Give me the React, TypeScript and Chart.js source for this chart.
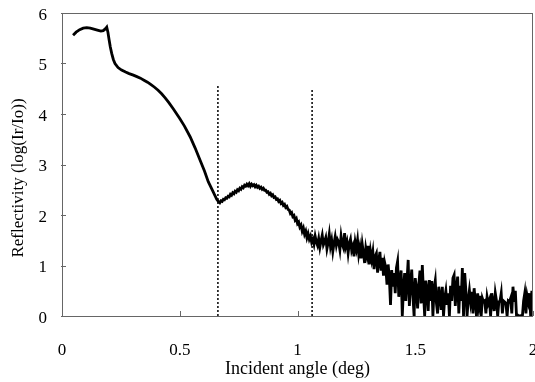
import React, { useEffect, useRef } from "react";
import { Chart, registerables } from "chart.js";

Chart.register(...registerables);

// Smooth low-angle part of the reflectivity curve (angle in deg, log(Ir/Io))
const smoothAngles = [
  0.047, 0.06, 0.075, 0.09, 0.105, 0.12, 0.135, 0.15, 0.165, 0.175, 0.185, 0.19,
  0.195, 0.2, 0.205, 0.211, 0.218, 0.225, 0.238, 0.253, 0.27, 0.285, 0.303, 0.318,
  0.333, 0.348, 0.363, 0.378, 0.393, 0.408, 0.423, 0.438, 0.453, 0.473, 0.5, 0.52,
  0.544, 0.565, 0.586, 0.605, 0.621, 0.64, 0.657,
];
const smoothRefl = [
  5.56, 5.62, 5.67, 5.7, 5.71, 5.7, 5.68, 5.66, 5.64, 5.65, 5.69, 5.72,
  5.62, 5.47, 5.33, 5.2, 5.08, 5.0, 4.92, 4.87, 4.83, 4.8, 4.77, 4.74,
  4.71, 4.67, 4.63, 4.58, 4.53, 4.47, 4.4, 4.32, 4.23, 4.1, 3.91, 3.76,
  3.55, 3.33, 3.09, 2.87, 2.66, 2.48, 2.31,
];

// Noisy part, sampled every 0.005 deg starting at 0.665 deg
const noisyStart = 0.665;
const noisyStep = 0.005;
const noisyRefl = [
  2.26, 2.24, 2.28, 2.27, 2.31, 2.3, 2.34, 2.33, 2.37, 2.36,
  2.41, 2.39, 2.44, 2.42, 2.47, 2.45, 2.5, 2.48, 2.53, 2.51,
  2.56, 2.54, 2.59, 2.57, 2.61, 2.58, 2.62, 2.57, 2.61, 2.58,
  2.6, 2.56, 2.59, 2.55, 2.57, 2.53, 2.55, 2.51, 2.53, 2.49,
  2.49, 2.45, 2.46, 2.41, 2.43, 2.38, 2.4, 2.35, 2.36, 2.31,
  2.32, 2.27, 2.29, 2.23, 2.25, 2.19, 2.21, 2.15, 2.17, 2.11,
  2.1, 2.03, 2.05, 1.97, 1.99, 1.9, 1.93, 1.83, 1.86, 1.76,
  1.8, 1.68, 1.74, 1.62, 1.68, 1.55, 1.63, 1.52, 1.58, 1.46,
  1.52, 1.42, 1.58, 1.47, 1.4, 1.53, 1.36, 1.49, 1.6, 1.41,
  1.47, 1.55, 1.33, 1.45, 1.62, 1.38, 1.5, 1.28, 1.44, 1.57,
  1.4, 1.51, 1.46, 1.31, 1.58, 1.42, 1.35, 1.64, 1.38, 1.47,
  1.25, 1.44, 1.52, 1.3, 1.38, 1.18, 1.46, 1.33, 1.5, 1.22,
  1.36, 1.14, 1.42, 1.25, 1.05, 1.34, 1.2, 1.39, 1.02, 1.28,
  1.12, 1.27, 0.93, 1.18, 1.24, 0.86, 1.1, 1.27, 0.9, 1.15,
  0.8, 1.06, 0.95, 0.62, 1.02, 0.75, 0.22, 0.91, 0.58, 0.85,
  0.45, 0.95, 1.08, 0.38, 0.72, 0.9, 0.0, 0.55, 0.85, 0.3,
  0.7, 1.11, 0.2, 0.62, 0.92, 0.4, 0.0, 0.75, 0.55, 0.15,
  0.62, 0.9, 0.25, 1.01, 0.45, 0.0, 0.7, 0.52, 0.1, 0.71,
  0.3, 0.69, 0.0, 0.55, 0.7, 0.25, 0.05, 0.58, 0.4, 0.12,
  0.58, 0.0, 0.35, 0.5, 0.22, 0.45, 0.0, 0.6, 0.3, 0.75,
  0.81, 0.2, 0.55, 0.78, 0.05, 0.6, 0.3, 0.95, 0.0, 0.85,
  0.5, 0.0, 0.32, 0.51, 0.28, 0.48, 0.05, 0.55, 0.3, 0.0,
  0.45, 0.2, 0.4, 0.0, 0.35, 0.28, 0.3, 0.05, 0.38, 0.25,
  0.32, 0.0, 0.45, 0.28, 0.1, 0.45, 0.3, 0.0, 0.28, 0.3,
  0.45, 0.05, 0.3, 0.28, 0.25, 0.0, 0.3, 0.28, 0.35, 0.05,
  0.58, 0.28, 0.5, 0.0, 0.02, 0.0, 0.0, 0.01, 0.0, 0.3,
  0.45, 0.05, 0.4, 0.28, 0.45, 0.0, 0.5, 0.2,
];

// Dotted marker lines (angle, top value)
const markerAngles = [0.662, 1.062];
const markerTops = [4.57, 4.5];

const xTicks = [0, 0.5, 1, 1.5, 2];
const yTicks = [0, 1, 2, 3, 4, 5, 6];

const FONT = "'Liberation Serif', 'Times New Roman', serif";

export default function App() {
  const ref = useRef<HTMLCanvasElement>(null);

  useEffect(() => {
    const canvas = ref.current;
    if (!canvas) return;

    const curve: { x: number; y: number }[] = [];
    smoothAngles.forEach((a, i) => curve.push({ x: a, y: smoothRefl[i] }));
    noisyRefl.forEach((v, i) =>
      curve.push({ x: +(noisyStart + i * noisyStep).toFixed(4), y: v })
    );

    const markerSets = markerAngles.map((a, i) => ({
      data: [
        { x: a, y: 0 },
        { x: a, y: markerTops[i] },
      ],
      borderColor: "#111",
      borderWidth: 1.6,
      borderDash: [2, 2],
      pointRadius: 0,
      fill: false,
    }));

    const framePlugin = {
      id: "frame",
      afterDraw(chart: any) {
        const { ctx, chartArea } = chart;
        const { left, right, top, bottom } = chartArea;
        const xs = chart.scales.x;
        const ys = chart.scales.y;
        ctx.save();
        ctx.strokeStyle = "#666";
        ctx.lineWidth = 1;
        ctx.strokeRect(left + 0.5, top + 0.5, right - left - 1, bottom - top);
        ctx.beginPath();
        xTicks.forEach((t) => {
          const px = Math.round(xs.getPixelForValue(t)) + 0.5;
          ctx.moveTo(px, bottom);
          ctx.lineTo(px, bottom - 5);
        });
        yTicks.forEach((t) => {
          const py = Math.round(ys.getPixelForValue(t)) + 0.5;
          ctx.moveTo(left - 1, py);
          ctx.lineTo(left + 4, py);
        });
        ctx.stroke();
        // y axis title
        ctx.fillStyle = "#000";
        ctx.font = `17px ${FONT}`;
        ctx.textAlign = "center";
        ctx.textBaseline = "middle";
        ctx.translate(19, 178);
        ctx.rotate(-Math.PI / 2);
        ctx.fillText("Reflectivity (log(Ir/Io))", 0, 0);
        ctx.restore();
      },
    };

    const chart = new Chart(canvas, {
      type: "line",
      data: {
        datasets: [
          {
            data: curve,
            borderColor: "#000",
            borderWidth: 2.8,
            pointRadius: 0,
            tension: 0,
            fill: false,
          },
          ...markerSets,
        ] as any,
      },
      options: {
        animation: false,
        responsive: false,
        layout: { padding: { top: 13, right: 2, left: 0, bottom: 0 } },
        plugins: { legend: { display: false }, tooltip: { enabled: false } },
        scales: {
          x: {
            type: "linear",
            min: 0,
            max: 2,
            grid: { display: false, drawTicks: false },
            border: { display: false },
            ticks: {
              stepSize: 0.5,
              padding: 24,
              color: "#000",
              maxRotation: 0,
              font: { family: FONT, size: 17 },
              callback: (v: any) => String(v),
            },
            title: {
              display: true,
              text: "Incident angle (deg)",
              color: "#000",
              font: { family: FONT, size: 18 },
              padding: { top: 0, bottom: 2 },
            },
            afterFit: (s: any) => {
              s.height = 66;
              s.paddingLeft = 0;
              s.paddingRight = 0;
            },
          },
          y: {
            min: 0,
            max: 6,
            grid: { display: false, drawTicks: false },
            border: { display: false },
            ticks: {
              stepSize: 1,
              padding: 15,
              labelOffset: 2.5,
              color: "#000",
              font: { family: FONT, size: 17 },
            },
            afterFit: (s: any) => {
              s.width = 62;
              s.paddingTop = 0;
              s.paddingBottom = 0;
            },
          },
        },
      } as any,
      plugins: [framePlugin],
    });

    return () => chart.destroy();
  }, []);

  return (
    <div style={{ position: "fixed", left: 0, top: 0, width: 535, height: 382, background: "#fff" }}>
      <canvas ref={ref} width={535} height={382} />
    </div>
  );
}
